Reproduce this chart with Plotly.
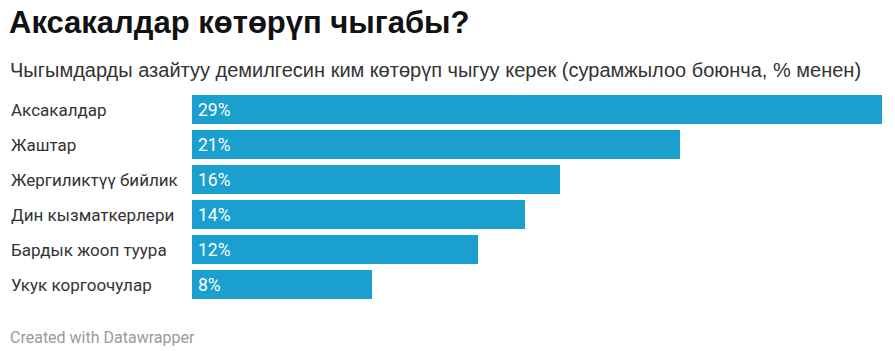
import plotly.graph_objects as go

categories = ["Аксакалдар", "Жаштар", "Жергиликтүү бийлик", "Дин кызматкерлери",
              "Бардык жооп туура", "Укук коргоочулар"]
values = [29.4, 20.8, 15.7, 14.2, 12.2, 7.65]
value_labels = ["29%", "21%", "16%", "14%", "12%", "8%"]

title = "Аксакалдар көтөрүп чыгабы?"
subtitle = "Чыгымдарды азайтуу демилгесин ким көтөрүп чыгуу керек (сурамжылоо боюнча, % менен)"
footer = "Created with Datawrapper"

W, H = 895, 351
L, R, T, B = 192, 13, 92, 49
PW, PH = W - L - R, H - T - B

def px_x(px):
    return (px - L) / PW

def px_y(py):
    return (H - B - py) / PH

BAR = "#1a9fcf"

fig = go.Figure(go.Bar(
    x=values, y=categories, orientation="h",
    marker=dict(color=BAR, line=dict(width=0)),
    width=29 / 35, hoverinfo="skip",
))

ann = []
for c, lab in zip(categories, value_labels):
    ann.append(dict(x=0, y=c, xref="x", yref="y", text=lab, showarrow=False,
                    xanchor="left", yanchor="middle", xshift=4,
                    font=dict(family="Roboto", size=17.5, color="white")))
    ann.append(dict(x=px_x(9), y=c, xref="paper", yref="y", text=c, showarrow=False,
                    xanchor="left", yanchor="middle",
                    font=dict(family="Roboto", size=17, color="#333333")))

ann.append(dict(x=px_x(7), y=px_y(22), xref="paper", yref="paper", text="<b>" + title + "</b>",
                showarrow=False, xanchor="left", yanchor="middle",
                font=dict(family="Liberation Sans", size=31, color="#111111")))
ann.append(dict(x=px_x(8), y=px_y(70), xref="paper", yref="paper", text=subtitle,
                showarrow=False, xanchor="left", yanchor="middle",
                font=dict(family="Liberation Sans", size=20, color="#333333")))
ann.append(dict(x=px_x(8), y=px_y(337), xref="paper", yref="paper", text=footer,
                showarrow=False, xanchor="left", yanchor="middle",
                font=dict(family="Roboto", size=16, color="#9a9a9a")))

fig.update_layout(
    width=W, height=H,
    margin=dict(l=L, r=R, t=T, b=B, pad=0),
    paper_bgcolor="white", plot_bgcolor="white",
    showlegend=False,
    xaxis=dict(range=[0, max(values)], visible=False, fixedrange=True),
    yaxis=dict(autorange="reversed", visible=False, fixedrange=True),
    annotations=ann,
    bargap=0,
)

fig.write_html("out.html", config={"displayModeBar": False})
